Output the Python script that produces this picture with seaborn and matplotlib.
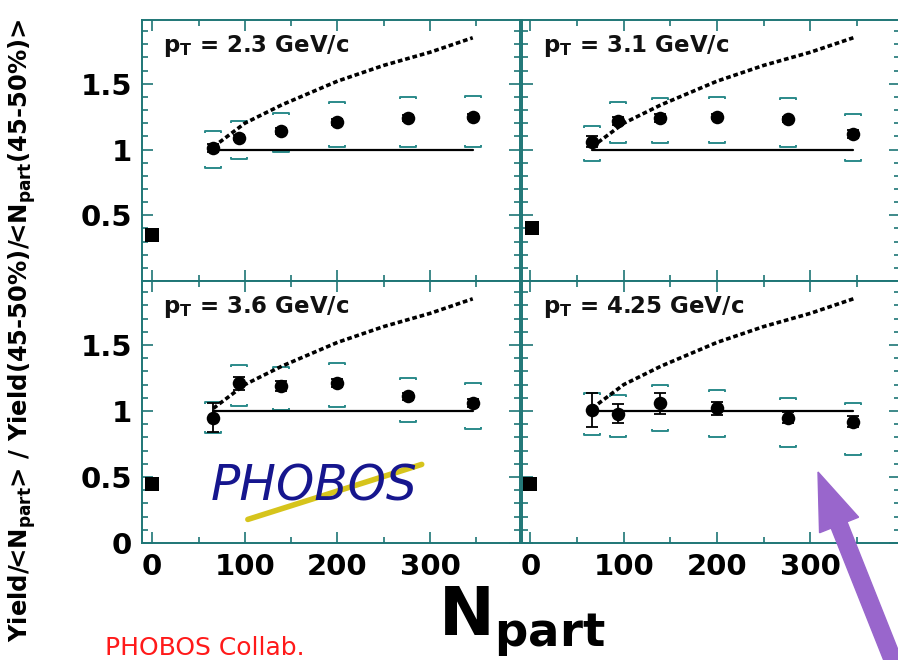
import numpy as np
import pandas as pd
import matplotlib
matplotlib.use("Agg")
import matplotlib.pyplot as plt
import seaborn as sns
from matplotlib.path import Path
from matplotlib.patches import FancyArrow
from matplotlib.ticker import MultipleLocator
from matplotlib.transforms import IdentityTransform

# ---------------- data ----------------
npart = [66, 94, 139, 200, 276, 346]
pt_labels = ["2.3", "3.1", "3.6", "4.25"]

ratio_23 = [1.01, 1.09, 1.14, 1.21, 1.24, 1.25]
sys_hi_23 = [1.14, 1.22, 1.28, 1.36, 1.40, 1.41]
sys_lo_23 = [0.86, 0.93, 0.98, 1.02, 1.02, 1.02]
stat_23 = [0.03, 0.02, 0.02, 0.02, 0.02, 0.02]

ratio_31 = [1.06, 1.22, 1.24, 1.25, 1.23, 1.12]
sys_hi_31 = [1.18, 1.36, 1.39, 1.40, 1.39, 1.27]
sys_lo_31 = [0.91, 1.05, 1.05, 1.05, 1.02, 0.91]
stat_31 = [0.04, 0.03, 0.03, 0.02, 0.02, 0.03]

ratio_36 = [0.95, 1.21, 1.19, 1.21, 1.11, 1.06]
sys_hi_36 = [1.07, 1.35, 1.33, 1.36, 1.25, 1.21]
sys_lo_36 = [0.83, 1.04, 1.01, 1.03, 0.92, 0.86]
stat_36 = [0.11, 0.05, 0.04, 0.03, 0.03, 0.03]

ratio_425 = [1.01, 0.98, 1.06, 1.02, 0.95, 0.92]
sys_hi_425 = [1.14, 1.12, 1.20, 1.16, 1.10, 1.06]
sys_lo_425 = [0.82, 0.80, 0.85, 0.80, 0.73, 0.67]
stat_425 = [0.13, 0.07, 0.08, 0.05, 0.04, 0.04]

# Ncoll-scaling expectation (dashed) and Npart scaling (solid)
ncoll_x = [66, 100, 140, 200, 250, 300, 346]
ncoll_y = [1.02, 1.20, 1.34, 1.52, 1.64, 1.74, 1.85]
npart_line_x = [66, 346]
npart_line_y = [1.0, 1.0]

# black squares at Npart ~ 0
square_x = [0, 2, 0, 0]
square_y = [0.35, 0.40, 0.45, 0.45]

panels = [
    (ratio_23, sys_hi_23, sys_lo_23, stat_23),
    (ratio_31, sys_hi_31, sys_lo_31, stat_31),
    (ratio_36, sys_hi_36, sys_lo_36, stat_36),
    (ratio_425, sys_hi_425, sys_lo_425, stat_425),
]

# ---------------- style ----------------
sns.set_theme(style="ticks")
plt.rcParams["font.family"] = ["DejaVu Sans"]
plt.rcParams["mathtext.fontset"] = "dejavusans"
plt.rcParams["mathtext.default"] = "bf"
plt.rcParams["text.color"] = "black"

frame_col = "#1e7676"
bracket_col = "#2b8a8a"

W, H = 898, 660
fig = plt.figure(figsize=(W / 100, H / 100), dpi=100)
fig.patch.set_facecolor("white")

def px_axes(x0, y0, x1, y1):
    return fig.add_axes([x0 / W, 1 - y1 / H, (x1 - x0) / W, (y1 - y0) / H])

axes = [
    px_axes(142, 20, 520, 281),
    px_axes(522, 20, 900, 281),
    px_axes(142, 281, 520, 543),
    px_axes(522, 281, 900, 543),
]

top_br = Path([(-1, -0.3), (-1, 0), (1, 0), (1, -0.3)],
              [Path.MOVETO, Path.LINETO, Path.LINETO, Path.LINETO])
bot_br = Path([(-1, 0.3), (-1, 0), (1, 0), (1, 0.3)],
              [Path.MOVETO, Path.LINETO, Path.LINETO, Path.LINETO])

for i, (ax, (ratio, hi, lo, stat)) in enumerate(zip(axes, panels)):
    ax.set_facecolor("white")
    left = i % 2 == 0
    bottom = i >= 2
    if left:
        ax.set_xlim(-11, 397)
    else:
        ax.set_xlim(-9, 396)
    ax.set_ylim(0, 1.985)

    df = pd.DataFrame({"npart": npart, "ratio": ratio})
    ax.errorbar(npart, ratio, yerr=stat, fmt="none", ecolor="black",
                elinewidth=1.3, capsize=4, capthick=1.3, zorder=3)
    ax.plot(npart, hi, ls="none", marker=top_br, ms=11, mfc="none",
            mec=bracket_col, mew=1.4, zorder=2)
    ax.plot(npart, lo, ls="none", marker=bot_br, ms=11, mfc="none",
            mec=bracket_col, mew=1.4, zorder=2)
    sns.lineplot(x=npart_line_x, y=npart_line_y, ax=ax, color="black",
                 lw=1.6, zorder=2)
    sns.lineplot(x=ncoll_x, y=ncoll_y, ax=ax, color="black", lw=2.6,
                 linestyle=(0, (1.3, 0.8)), zorder=4)
    sns.scatterplot(data=df, x="npart", y="ratio", ax=ax, color="black",
                    s=95, edgecolor="black", linewidth=0, zorder=5)
    sns.scatterplot(x=[square_x[i]], y=[square_y[i]], ax=ax, marker="s",
                    color="black", s=105, linewidth=0, zorder=5, clip_on=False)

    ax.text(0.055, 0.90, r"$\mathbf{p}_\mathbf{T}$ = " + pt_labels[i] + " GeV/c",
            transform=ax.transAxes, fontsize=16.5, fontweight="bold",
            ha="left", va="center", color="#111111")

    ax.set_xlabel("")
    ax.set_ylabel("")
    ax.xaxis.set_major_locator(MultipleLocator(100))
    ax.xaxis.set_minor_locator(MultipleLocator(50))
    ax.yaxis.set_major_locator(MultipleLocator(0.5))
    ax.yaxis.set_minor_locator(MultipleLocator(0.1))
    ax.tick_params(which="both", direction="in", top=True, right=True,
                   color=frame_col, width=1.2)
    ax.tick_params(which="major", length=8)
    ax.tick_params(which="minor", length=4)
    ax.tick_params(axis="both", labelsize=21, pad=7, labelcolor="black")
    ax.set_xticks([0, 100, 200, 300])
    ax.set_xticklabels(["0", "100", "200", "300"] if bottom else [],
                       fontweight="bold")
    ax.set_yticks([0, 0.5, 1, 1.5])
    if left:
        if bottom:
            ax.set_yticklabels(["0", "0.5", "1", "1.5"], fontweight="bold")
        else:
            ax.set_yticklabels(["", "0.5", "1", "1.5"], fontweight="bold")
    else:
        ax.set_yticklabels([])
    for sp in ax.spines.values():
        sp.set_color(frame_col)
        sp.set_linewidth(1.4)

# PHOBOS logo (text) in lower-left panel
axl = axes[2]
axl.plot([0.28, 0.74], [0.09, 0.30], transform=axl.transAxes,
         color="#d6c41c", lw=4, solid_capstyle="round", zorder=1)
axl.text(0.455, 0.215, "PHOBOS", transform=axl.transAxes, fontsize=35,
         color="#16168e", ha="center", va="center", fontstyle="oblique",
         family="DejaVu Sans", zorder=2)

# axis titles
fig.text(22 / W, 1 - 330 / H,
         r"Yield/<$\mathbf{N}_{\mathbf{part}}$> / Yield(45-50%)/<$\mathbf{N}_{\mathbf{part}}$(45-50%)>",
         rotation=90, ha="center", va="center", fontsize=17.5, fontweight="bold")
fig.text(522 / W, 1 - 622 / H, r"$\mathbf{N}_{\mathbf{part}}$",
         ha="center", va="center", fontsize=48)
fig.text(105 / W, 1 - 655 / H, "PHOBOS Collab.", ha="left", va="baseline",
         fontsize=18, color="#ff1a1a")

# purple arrow
arrow = FancyArrow(896, -8, -78, 196, width=17, head_width=42,
                   head_length=57, length_includes_head=True,
                   color="#9966cc", transform=IdentityTransform(),
                   zorder=10)
fig.patches.append(arrow)
arrow.set_figure(fig)

fig.savefig("out.png", dpi=100)
